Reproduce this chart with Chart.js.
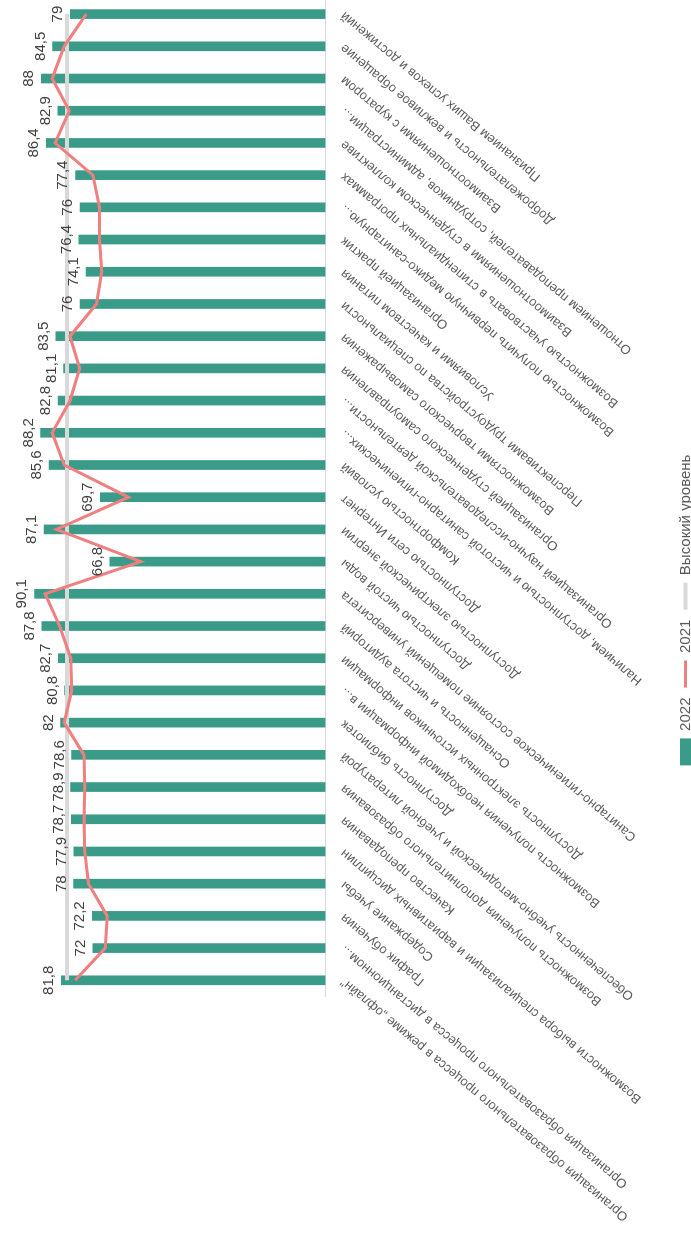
<!DOCTYPE html>
<html><head><meta charset="utf-8">
<script src="https://cdn.jsdelivr.net/npm/chart.js@4/dist/chart.umd.min.js"></script>
<style>
html,body{margin:0;padding:0;background:#fff;overflow:hidden;width:691px;height:1240px;}
#wrap{position:absolute;left:0;top:0;width:1242px;height:703px;transform-origin:0 0;transform:translate(0px,1240px) rotate(-90deg);}
canvas{display:block;}
</style></head><body>
<div id="wrap"><canvas id="c" width="1242" height="703"></canvas></div>
<script>
const categories = [
  "Организация образовательного процесса в режиме „офлайн\"",
  "Организация образовательного процесса в дистанционном...",
  "График обучения",
  "Содержание учебы",
  "Возможности выбора специализации и вариативных дисциплин",
  "Качество преподавания",
  "Возможность получения дополнительного образования",
  "Обеспеченность учебно-методической и учебной литературой",
  "Доступность библиотек",
  "Возможность получения необходимой информации в...",
  "Доступность электронных источников информации",
  "Оснащенность и чистота аудиторий",
  "Санитарно-гигиеническое состояние помещений университета",
  "Доступностью чистой воды",
  "Доступностью электрической энергии",
  "Доступностью сети Интернет",
  "Комфортностью условий",
  "Наличием, доступностью и чистотой санитарно-гигиенических...",
  "Организацией научно-исследовательской деятельности...",
  "Организацией студенческого самоуправления",
  "Возможностями творческого самовыражения",
  "Перспективами трудоустройства по специальности",
  "Условиями и качеством питания",
  "Организацией практик",
  "Возможностью получить первичную медико-санитарную...",
  "Возможностью участвовать в стипендиальных программах",
  "Взаимоотношениями в студенческом коллективе",
  "Отношением преподавателей, сотрудников, администрации...",
  "Взаимоотношениями с куратором",
  "Доброжелательность и вежливое обращение",
  "Признанием Ваших успехов и достижений"
];
const values2022 = [81.8, 72, 72.2, 78, 77.9, 78.7, 78.9, 78.6, 82, 80.8, 82.7, 87.8, 90.1, 66.8, 87.1, 69.7, 85.6, 88.2, 82.8, 81.1, 83.5, 76, 74.1, 76.4, 76, 77.4, 86.4, 82.9, 88, 84.5, 79];
const values2021 = [77.5, 68.2, 67.6, 73.4, 74.5, 74.8, 74.5, 74.8, 80.9, 78.6, 78.9, 82.3, 86.8, 57.2, 83.3, 61.0, 80.9, 84.6, 79.1, 76.1, 79.1, 70.9, 69.3, 70.0, 70.0, 72.0, 83.7, 79.3, 84.6, 80.9, 74.1];
const highLevel = [80, 80, 80, 80, 80, 80, 80, 80, 80, 80, 80, 80, 80, 80, 80, 80, 80, 80, 80, 80, 80, 80, 80, 80, 80, 80, 80, 80, 80, 80, 80];
const seriesNames = ["2022", "2021", "Высокий уровень"];
const valueAxis = {min: 0, max: 100};

const FONT = "'Liberation Sans', Arial, sans-serif";

const valueLabels = {
  id: 'valueLabels',
  afterDatasetsDraw(chart) {
    const meta = chart.getDatasetMeta(0);
    const ctx = chart.ctx;
    ctx.save();
    ctx.font = '15px ' + FONT;
    ctx.fillStyle = '#404040';
    ctx.textAlign = 'center';
    ctx.textBaseline = 'alphabetic';
    meta.data.forEach((bar, i) => {
      ctx.fillText(String(values2022[i]).replace('.', ','), bar.x, bar.y - 8);
    });
    ctx.restore();
  }
};

new Chart(document.getElementById('c'), {
  type: 'bar',
  data: {
    labels: categories,
    datasets: [
      {type: 'bar', label: seriesNames[0], data: values2022, backgroundColor: '#3A9B88', barThickness: 9, order: 2},
      {type: 'line', label: seriesNames[1], data: values2021, borderColor: '#F07F7F', backgroundColor: '#F07F7F', borderWidth: 3, pointRadius: 0, tension: 0, order: 0},
      {type: 'line', label: seriesNames[2], data: highLevel, borderColor: '#D9D9D9', backgroundColor: '#D9D9D9', borderWidth: 4, pointRadius: 0, tension: 0, order: 1}
    ]
  },
  options: {
    responsive: false,
    animation: false,
    devicePixelRatio: 1,
    layout: {padding: {top: 2.5, left: 18, right: 0, bottom: 0}},
    plugins: {
      tooltip: {enabled: false},
      legend: {
        position: 'bottom',
        labels: {
          usePointStyle: true,
          pointStyleWidth: 27,
          boxHeight: 11,
          padding: 10,
          color: '#595959',
          font: {family: FONT, size: 15},
          sort: (a, b) => a.datasetIndex - b.datasetIndex,
          generateLabels(chart) {
            const items = Chart.defaults.plugins.legend.labels.generateLabels(chart);
            items.forEach(it => {
              const ds = chart.data.datasets[it.datasetIndex];
              if (ds.type === 'line') {
                it.pointStyle = 'line';
                it.lineWidth = ds.borderWidth;
                it.strokeStyle = ds.borderColor;
              } else {
                it.pointStyle = 'rect';
                it.lineWidth = 0;
              }
            });
            return items;
          }
        }
      }
    },
    scales: {
      x: {
        grid: {display: false, drawTicks: false},
        border: {display: true, color: '#D9D9D9', width: 1},
        ticks: {autoSkip: false, minRotation: 50, maxRotation: 50, padding: 12, color: '#595959', font: {family: FONT, size: 13}},
        afterFit(s) { s.paddingLeft = 243.6; s.paddingRight = 0; s.height = 342.5; }
      },
      y: {display: false, min: valueAxis.min, max: valueAxis.max}
    }
  },
  plugins: [valueLabels]
});
</script>
</body></html>
